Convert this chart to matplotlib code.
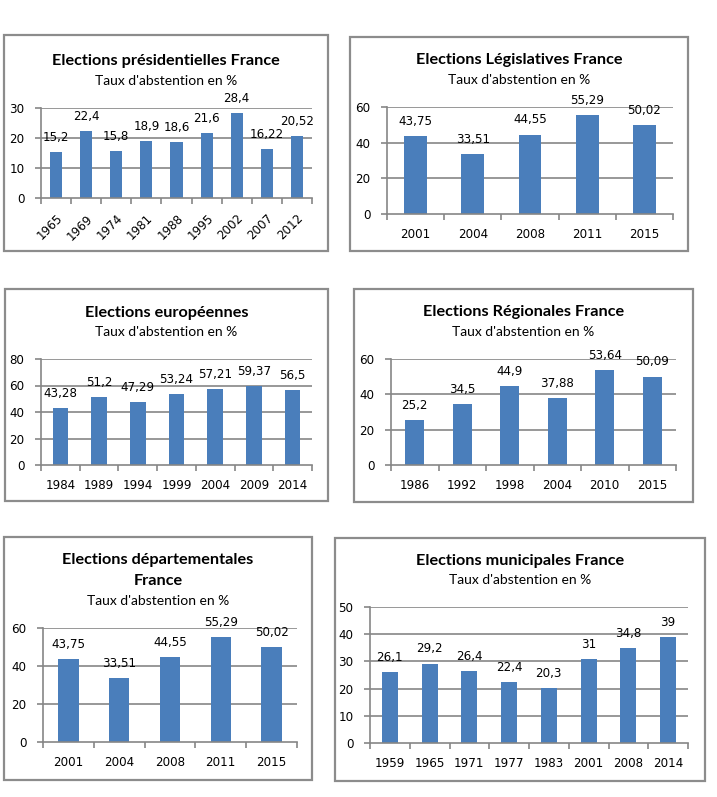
import matplotlib
matplotlib.use("Agg")
import matplotlib.pyplot as plt
from matplotlib.patches import Rectangle
from matplotlib.ticker import FixedLocator

W, H = 717, 797
DPI = 100

# ---------------- data ----------------
pres_years = ["1965", "1969", "1974", "1981", "1988", "1995", "2002", "2007", "2012"]
pres_vals = [15.2, 22.4, 15.8, 18.9, 18.6, 21.6, 28.4, 16.22, 20.52]
pres_labels = ["15,2", "22,4", "15,8", "18,9", "18,6", "21,6", "28,4", "16,22", "20,52"]

leg_years = ["2001", "2004", "2008", "2011", "2015"]
leg_vals = [43.75, 33.51, 44.55, 55.29, 50.02]
leg_labels = ["43,75", "33,51", "44,55", "55,29", "50,02"]

eur_years = ["1984", "1989", "1994", "1999", "2004", "2009", "2014"]
eur_vals = [43.28, 51.2, 47.29, 53.24, 57.21, 59.37, 56.5]
eur_labels = ["43,28", "51,2", "47,29", "53,24", "57,21", "59,37", "56,5"]

reg_years = ["1986", "1992", "1998", "2004", "2010", "2015"]
reg_vals = [25.2, 34.5, 44.9, 37.88, 53.64, 50.09]
reg_labels = ["25,2", "34,5", "44,9", "37,88", "53,64", "50,09"]

dep_years = ["2001", "2004", "2008", "2011", "2015"]
dep_vals = [43.75, 33.51, 44.55, 55.29, 50.02]
dep_labels = ["43,75", "33,51", "44,55", "55,29", "50,02"]

mun_years = ["1959", "1965", "1971", "1977", "1983", "2001", "2008", "2014"]
mun_vals = [26.1, 29.2, 26.4, 22.4, 20.3, 31, 34.8, 39]
mun_labels = ["26,1", "29,2", "26,4", "22,4", "20,3", "31", "34,8", "39"]

titles = [
    "Elections présidentielles France",
    "Elections Législatives France",
    "Elections européennes",
    "Elections Régionales France",
    "Elections départementales\nFrance",
    "Elections municipales France",
]
subtitle = "Taux d'abstention en %"

# ---------------- style ----------------
BAR = "#4a7ebb"
GRID = "#868686"
BORDER = "#8c8c8c"
TFONT = ["Lato", "DejaVu Sans"]
NFONT = ["DejaVu Sans"]
NSIZE = 8.6

fig = plt.figure(figsize=(W / DPI, H / DPI), dpi=DPI)
fig.patch.set_facecolor("white")

# overlay for boxes and titles (pixel coordinates)
ov = fig.add_axes([0, 0, 1, 1], zorder=0)
ov.set_xlim(0, W)
ov.set_ylim(H, 0)
ov.axis("off")

panels = [
    dict(x=pres_years, v=pres_vals, l=pres_labels, ymax=30, step=10, rot=True,
         box=(4, 35, 328, 251), plot=(41, 108, 312, 198), ty=[61], sy=81),
    dict(x=leg_years, v=leg_vals, l=leg_labels, ymax=60, step=20, rot=False,
         box=(350, 37, 688, 251), plot=(387, 107, 673, 214), ty=[60], sy=80),
    dict(x=eur_years, v=eur_vals, l=eur_labels, ymax=80, step=20, rot=False,
         box=(5, 289, 328, 501), plot=(41, 359, 312, 465), ty=[313], sy=332),
    dict(x=reg_years, v=reg_vals, l=reg_labels, ymax=60, step=20, rot=False,
         box=(354, 289, 693, 502), plot=(391, 359, 676, 465), ty=[312], sy=332),
    dict(x=dep_years, v=dep_vals, l=dep_labels, ymax=60, step=20, rot=False,
         box=(4, 537, 312, 780), plot=(43, 628, 297, 742), ty=[560, 581], sy=601),
    dict(x=mun_years, v=mun_vals, l=mun_labels, ymax=50, step=10, rot=False,
         box=(335, 538, 705, 781), plot=(370, 607, 688, 743), ty=[561], sy=580),
]

for p, title in zip(panels, titles):
    x0, y0, x1, y1 = p["box"]
    ov.add_patch(Rectangle((x0, y0), x1 - x0, y1 - y0, fill=False,
                           edgecolor=BORDER, linewidth=1.6))
    cx = (x0 + x1) / 2
    for line, ty in zip(title.split("\n"), p["ty"]):
        ov.text(cx, ty, line, ha="center", va="center", fontsize=11.7,
                fontweight="bold", family=TFONT, color="black")
    ov.text(cx, p["sy"], subtitle, ha="center", va="center", fontsize=10,
            family=TFONT, color="black")

    px0, py0, px1, py1 = p["plot"]
    ax = fig.add_axes([px0 / W, 1 - py1 / H, (px1 - px0) / W, (py1 - py0) / H], zorder=1)
    ax.patch.set_alpha(0)
    n = len(p["x"])
    pos = list(range(n))
    ax.bar(pos, p["v"], width=0.4, color=BAR, zorder=3)
    ax.set_xlim(-0.5, n - 0.5)
    ax.set_ylim(0, p["ymax"])
    yt = list(range(0, p["ymax"] + 1, p["step"]))
    ax.set_yticks(yt)
    ax.set_yticklabels([str(t) for t in yt], family=NFONT, fontsize=NSIZE)
    for t in yt[1:]:
        ax.axhline(t, color=GRID, linewidth=1.2, zorder=1)
    ax.set_xticks(pos)
    if p["rot"]:
        ax.set_xticklabels(p["x"], family=NFONT, fontsize=NSIZE, rotation=45,
                           ha="right", va="top", rotation_mode="anchor")
        ax.tick_params(axis="x", which="major", length=0, pad=10)
    else:
        ax.set_xticklabels(p["x"], family=NFONT, fontsize=NSIZE)
        ax.tick_params(axis="x", which="major", length=0, pad=10)
    ax.xaxis.set_minor_locator(FixedLocator([i - 0.5 for i in range(n + 1)]))
    ax.tick_params(axis="x", which="minor", length=4, color=GRID, width=1.2)
    ax.tick_params(axis="y", length=4, color=GRID, width=1.2, pad=8)
    for s in ("top", "right"):
        ax.spines[s].set_visible(False)
    for s in ("left", "bottom"):
        ax.spines[s].set_color(GRID)
        ax.spines[s].set_linewidth(1.2)
        ax.spines[s].set_zorder(4)
    for xi, v, lab in zip(pos, p["v"], p["l"]):
        ax.annotate(lab, (xi, v), xytext=(0, 10.5), textcoords="offset points",
                    ha="center", va="center", fontsize=NSIZE, family=NFONT,
                    annotation_clip=False, zorder=5)

fig.savefig("out.png", dpi=DPI)
